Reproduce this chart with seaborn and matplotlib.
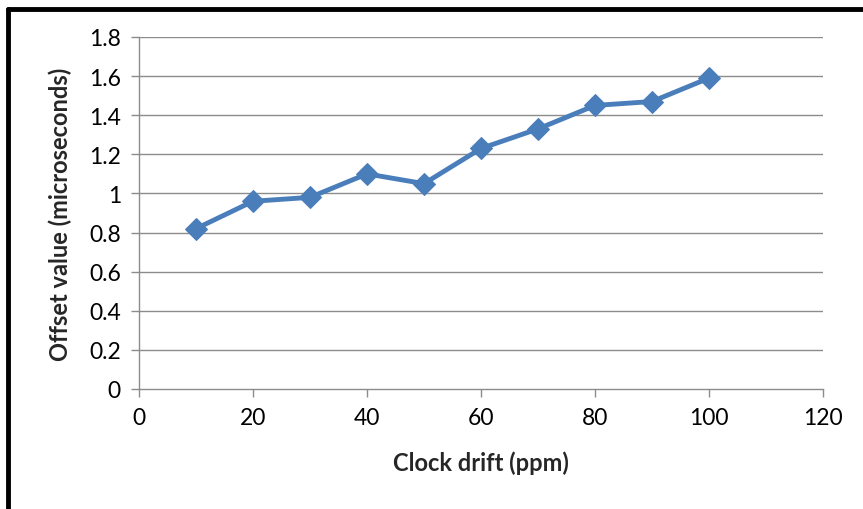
import matplotlib
matplotlib.use("Agg")
import matplotlib.pyplot as plt
import seaborn as sns
import pandas as pd
from matplotlib.lines import Line2D

drift_ppm = [10, 20, 30, 40, 50, 60, 70, 80, 90, 100]
offset_us = [0.82, 0.96, 0.98, 1.10, 1.05, 1.23, 1.33, 1.45, 1.47, 1.59]
x_ticks = [0, 20, 40, 60, 80, 100, 120]
y_ticks = [0, 0.2, 0.4, 0.6, 0.8, 1.0, 1.2, 1.4, 1.6, 1.8]
y_tick_labels = ["0", "0.2", "0.4", "0.6", "0.8", "1", "1.2", "1.4", "1.6", "1.8"]

df = pd.DataFrame({"drift": drift_ppm, "offset": offset_us})

sns.set_style("white")
plt.rcParams['font.family'] = ['Lato', 'DejaVu Sans']

fig = plt.figure(figsize=(8.63, 5.10), dpi=100)
ax = fig.add_axes([139/863, 1-390/510, (823-139)/863, (390-38)/510])

grid_c = "#8c8c8c"
for yv in y_ticks[1:]:
    ax.axhline(yv, color=grid_c, lw=1.0, zorder=0)

sns.lineplot(data=df, x="drift", y="offset", ax=ax, color="#4a7ebb", lw=3.5,
             marker="D", markersize=11, markeredgecolor="#4a7ebb", zorder=3)

ax.set_xlim(0, 120)
ax.set_ylim(0, 1.8)
ax.set_xticks(x_ticks)
ax.set_xticklabels([str(v) for v in x_ticks])
ax.set_yticks(y_ticks)
ax.set_yticklabels(y_tick_labels)

for s in ["top", "right"]:
    ax.spines[s].set_visible(False)
for s in ["left", "bottom"]:
    ax.spines[s].set_color(grid_c)
    ax.spines[s].set_linewidth(1.0)
ax.tick_params(axis="both", direction="out", length=6, width=1.0, color=grid_c,
               labelsize=16.5, labelcolor="black", pad=7, left=True, bottom=True)

ax.set_xlabel("Clock drift (ppm)", fontsize=17, fontweight="bold", labelpad=16)
ax.set_ylabel("Offset value (microseconds)", fontsize=17, fontweight="bold", labelpad=12)

# figure border (left and top visible)
fig.add_artist(Line2D([8/863, 8/863], [0, 1-10/510], transform=fig.transFigure, color="black", lw=3.5))
fig.add_artist(Line2D([8/863, 1], [1-10/510, 1-10/510], transform=fig.transFigure, color="black", lw=3.5))

fig.savefig("out.png", dpi=100)
